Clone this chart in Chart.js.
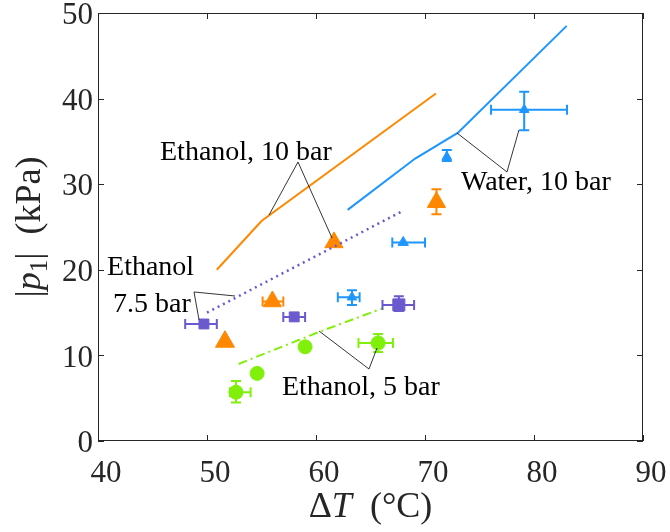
<!DOCTYPE html>
<html>
<head>
<meta charset="utf-8">
<script src="https://cdn.jsdelivr.net/npm/chart.js@4.4.0/dist/chart.umd.min.js"></script>
<style>
  body { margin: 0; background: #fff; }
  #wrap { width: 670px; height: 532px; }
</style>
</head>
<body>
<div id="wrap"><canvas id="chart1"></canvas></div>
<script>
// model curves
const eth10LineX = [50.9, 55.0, 71.0];
const eth10LineY = [20.0, 25.7, 40.6];
const waterLineX = [62.9, 69.1, 73.0, 83.0];
const waterLineY = [27.0, 33.0, 36.0, 48.5];
const eth75LineX = [50.0, 68.0];
const eth75LineY = [15.0, 26.9];
const eth5LineX = [52.9, 60.2, 66.1];
const eth5LineY = [9.0, 12.7, 15.5];

// measured points, error bars as [low, high]
const eth10X = [51.65, 56.0, 61.65, 71.05];
const eth10Y = [11.6, 16.3, 23.2, 27.9];
const eth10ErrX = [null, [55.1, 57.0], null, null];
const eth10ErrY = [null, null, null, [26.5, 29.4]];

const waterX = [63.3, 68.0, 72.0, 79.1];
const waterY = [16.8, 23.2, 33.2, 38.7];
const waterErrX = [[62.0, 64.0], [67.0, 70.0], null, [76.06, 83.03]];
const waterErrY = [[15.9, 17.6], null, [32.7, 34.0], [36.3, 40.8]];

const eth75X = [49.72, 58.0, 67.6];
const eth75Y = [13.67, 14.5, 15.9];
const eth75ErrX = [[48.0, 50.9], [57.0, 59.0], [66.1, 69.0]];
const eth75ErrY = [null, null, [15.2, 16.9]];

const eth5X = [52.66, 54.6, 59.0, 65.7];
const eth5Y = [5.7, 7.9, 11.0, 11.45];
const eth5ErrX = [[52.1, 54.0], null, null, [63.9, 67.06]];
const eth5ErrY = [[4.5, 7.0], null, null, [10.4, 12.5]];

const xTicks = [40, 50, 60, 70, 80, 90];
const yTicks = [0, 10, 20, 30, 40, 50];

// labels with leader lines, in data units
const notes = [
  { text: ['Ethanol, 10 bar'], at: [45.69, 32.83], lead: [[55.69, 26.40], [58.35, 32.59], [61.47, 23.71]] },
  { text: ['Water, 10 bar'], at: [73.30, 29.32], lead: [[72.94, 35.98], [77.52, 31.43], [78.62, 36.33]] },
  { text: ['Ethanol', '7.5 bar'], at: [40.83, 19.39], lead: [[52.57, 16.94], [48.81, 17.41], [49.27, 14.14]] },
  { text: ['Ethanol, 5 bar'], at: [56.88, 5.37], lead: [[60.28, 12.85], [64.86, 8.41], [65.60, 10.86]] }
];

const ORANGE = '#ff8800';
const BLUE = '#1e96ff';
const PURPLE = '#6a5acd';
const GREEN = '#80f00a';
const SERIF = '"Liberation Serif", "Times New Roman", serif';
const INK = '#262626';

function pts(xs, ys) {
  return xs.map((x, i) => ({ x: x, y: ys[i] }));
}

function lineSet(xs, ys, color, dash, width) {
  return {
    data: pts(xs, ys), showLine: true, pointRadius: 0,
    borderColor: color, borderWidth: width, borderDash: dash, fill: false
  };
}

function markSet(xs, ys, color, style, radius, errX, errY) {
  return {
    data: pts(xs, ys), showLine: false, pointStyle: style,
    pointRadius: radius, backgroundColor: color, borderColor: color, borderWidth: 1,
    errX: errX, errY: errY
  };
}

const errorBars = {
  id: 'errorBars',
  afterDatasetsDraw(chart) {
    const ctx = chart.ctx, sx = chart.scales.x, sy = chart.scales.y;
    const cap = 5;
    chart.data.datasets.forEach(ds => {
      if (!ds.errX && !ds.errY) return;
      ctx.save();
      ctx.strokeStyle = ds.borderColor;
      ctx.lineWidth = 2;
      ds.data.forEach((p, i) => {
        const px = sx.getPixelForValue(p.x), py = sy.getPixelForValue(p.y);
        const ex = ds.errX && ds.errX[i], ey = ds.errY && ds.errY[i];
        ctx.beginPath();
        if (ex) {
          const a = sx.getPixelForValue(ex[0]), b = sx.getPixelForValue(ex[1]);
          ctx.moveTo(a, py); ctx.lineTo(b, py);
          ctx.moveTo(a, py - cap); ctx.lineTo(a, py + cap);
          ctx.moveTo(b, py - cap); ctx.lineTo(b, py + cap);
        }
        if (ey) {
          const a = sy.getPixelForValue(ey[0]), b = sy.getPixelForValue(ey[1]);
          ctx.moveTo(px, a); ctx.lineTo(px, b);
          ctx.moveTo(px - cap, a); ctx.lineTo(px + cap, a);
          ctx.moveTo(px - cap, b); ctx.lineTo(px + cap, b);
        }
        ctx.stroke();
      });
      ctx.restore();
    });
  }
};

const frame = {
  id: 'frame',
  afterDraw(chart) {
    const ctx = chart.ctx, a = chart.chartArea, sx = chart.scales.x, sy = chart.scales.y;
    const len = 6;
    ctx.save();
    ctx.strokeStyle = INK;
    ctx.lineWidth = 1;
    ctx.strokeRect(a.left + 0.5, a.top + 0.5, a.right - a.left - 1, a.bottom - a.top - 1);
    ctx.beginPath();
    xTicks.forEach(v => {
      const x = Math.round(sx.getPixelForValue(v)) + 0.5;
      ctx.moveTo(x, a.bottom); ctx.lineTo(x, a.bottom - len);
      ctx.moveTo(x, a.top); ctx.lineTo(x, a.top + len);
    });
    yTicks.forEach(v => {
      const y = Math.round(sy.getPixelForValue(v)) + 0.5;
      ctx.moveTo(a.left, y); ctx.lineTo(a.left + len, y);
      ctx.moveTo(a.right, y); ctx.lineTo(a.right - len, y);
    });
    ctx.stroke();

    // annotations
    ctx.strokeStyle = '#000';
    ctx.lineWidth = 0.8;
    ctx.fillStyle = '#000';
    ctx.font = '28px ' + SERIF;
    ctx.textBaseline = 'alphabetic';
    notes.forEach(n => {
      ctx.beginPath();
      n.lead.forEach((p, i) => {
        const x = sx.getPixelForValue(p[0]), y = sy.getPixelForValue(p[1]);
        if (i === 0) ctx.moveTo(x, y); else ctx.lineTo(x, y);
      });
      ctx.stroke();
      const tx = sx.getPixelForValue(n.at[0]), ty = sy.getPixelForValue(n.at[1]);
      n.text.forEach((t, i) => {
        ctx.fillText(t, tx + (i ? 6 : 0), ty + i * 37);
      });
    });

    // axis titles
    ctx.fillStyle = INK;
    drawPieces(ctx, [['Δ', ''], ['T', 'italic '], ['  (°C)', '']], 36, (a.left + a.right) / 2, 517);
    ctx.translate(40, (a.top + a.bottom) / 2);
    ctx.rotate(-Math.PI / 2);
    drawPieces(ctx, [['|', ''], ['p', 'italic '], ['1', 'sub'], ['|  (kPa)', '']], 36, 0, 0);
    ctx.restore();
  }
};

function drawPieces(ctx, pieces, size, cx, baseY) {
  const fontOf = p => p[1] === 'sub' ? (size * 0.7) + 'px ' + SERIF : p[1] + size + 'px ' + SERIF;
  let total = 0;
  pieces.forEach(p => { ctx.font = fontOf(p); total += ctx.measureText(p[0]).width; });
  let x = cx - total / 2;
  ctx.textAlign = 'left';
  pieces.forEach(p => {
    ctx.font = fontOf(p);
    ctx.fillText(p[0], x, baseY + (p[1] === 'sub' ? size * 0.2 : 0));
    x += ctx.measureText(p[0]).width;
  });
}

function noPad(s) {
  s.paddingTop = 0; s.paddingBottom = 0; s.paddingLeft = 0; s.paddingRight = 0;
}

function createChart(chartId) {
  const ctx = document.getElementById(chartId);
  return new Chart(ctx, {
    type: 'scatter',
    data: {
      datasets: [
        lineSet(eth75LineX, eth75LineY, PURPLE, [2, 4], 2.5),
        lineSet(eth5LineX, eth5LineY, GREEN, [9, 4, 2, 4], 2),
        lineSet(eth10LineX, eth10LineY, ORANGE, [], 2),
        lineSet(waterLineX, waterLineY, BLUE, [], 2),
        markSet(eth10X, eth10Y, ORANGE, 'triangle', [11, 10.5, 10.5, 10.5], eth10ErrX, eth10ErrY),
        markSet(waterX, waterY, BLUE, 'triangle', [5.5, 6, 5.5, 5.5], waterErrX, waterErrY),
        markSet(eth75X, eth75Y, PURPLE, 'rect', [7, 7, 8.5], eth75ErrX, eth75ErrY),
        markSet(eth5X, eth5Y, GREEN, 'circle', [7, 7, 7, 7], eth5ErrX, eth5ErrY)
      ]
    },
    options: {
      responsive: true,
      maintainAspectRatio: false,
      animation: false,
      layout: { padding: { top: 13, right: 27, left: 0, bottom: 0 } },
      plugins: { legend: { display: false }, tooltip: { enabled: false } },
      scales: {
        x: {
          type: 'linear', min: 40, max: 90,
          afterBuildTicks: s => { s.ticks = xTicks.map(v => ({ value: v })); },
          afterFit: s => { s.height = 91; noPad(s); },
          grid: { display: false, drawTicks: false },
          border: { display: false },
          ticks: { color: INK, padding: 14, labelOffset: 8, font: { family: SERIF, size: 31, lineHeight: 1.2 } }
        },
        y: {
          type: 'linear', min: 0, max: 50,
          afterBuildTicks: s => { s.ticks = yTicks.map(v => ({ value: v })); },
          afterFit: s => { s.width = 98; noPad(s); },
          grid: { display: false, drawTicks: false },
          border: { display: false },
          ticks: { color: INK, padding: 5, labelOffset: 3, font: { family: SERIF, size: 31, lineHeight: 0.8 } }
        }
      }
    },
    plugins: [errorBars, frame]
  });
}

createChart('chart1');
</script>
</body>
</html>
